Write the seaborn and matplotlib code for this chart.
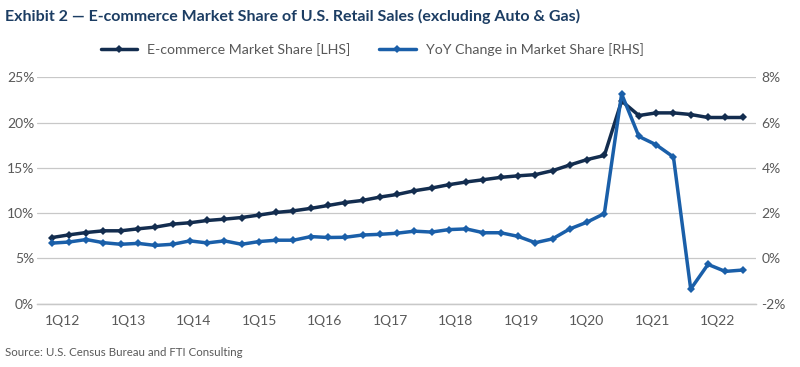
import numpy as np
import pandas as pd
import matplotlib
matplotlib.use('Agg')
import matplotlib.pyplot as plt
import seaborn as sns

# Quarterly data, 1Q12 .. 1Q22
share_pct = [7.29, 7.59, 7.85, 8.04, 8.04, 8.26, 8.45, 8.78, 8.93, 9.18,
             9.33, 9.51, 9.78, 10.07, 10.25, 10.52, 10.84, 11.17, 11.40, 11.77,
             12.06, 12.47, 12.77, 13.14, 13.44, 13.69, 13.95, 14.12, 14.25, 14.69,
             15.32, 15.92, 16.37, 22.40, 20.79, 21.08, 21.08, 20.90, 20.57, 20.57,
             20.57]
yoy_pct = [0.67, 0.72, 0.83, 0.69, 0.62, 0.66, 0.57, 0.62, 0.77, 0.68,
           0.77, 0.62, 0.74, 0.80, 0.80, 0.96, 0.92, 0.93, 1.03, 1.06,
           1.11, 1.20, 1.16, 1.27, 1.30, 1.13, 1.13, 0.97, 0.69, 0.86,
           1.30, 1.60, 1.98, 7.27, 5.39, 5.02, 4.48, -1.36, -0.27, -0.58,
           -0.52]
year_labels = ['1Q12', '1Q13', '1Q14', '1Q15', '1Q16', '1Q17',
               '1Q18', '1Q19', '1Q20', '1Q21', '1Q22']

df = pd.DataFrame({'q': np.arange(len(share_pct)), 'share': share_pct, 'yoy': yoy_pct})

sns.set_theme(style='white')
plt.rcParams['font.family'] = ['Lato', 'DejaVu Sans']

dark = '#132d4f'
blue = '#1a5fa9'
grey_txt = '#595959'
grid_c = '#c8c8c8'

fig = plt.figure(figsize=(8, 3.67), dpi=100)
ax = fig.add_axes([0.04625, 0.173, 0.89875, 0.616])
ax2 = ax.twinx()

sns.lineplot(data=df, x='q', y='share', ax=ax, color=dark, linewidth=2.5,
             marker='D', markersize=4.5, markeredgewidth=0, label='E-commerce Market Share [LHS]',
             legend=False)
sns.lineplot(data=df, x='q', y='yoy', ax=ax2, color=blue, linewidth=2.5,
             marker='D', markersize=4.5, markeredgewidth=0, label='YoY Change in Market Share [RHS]',
             legend=False)

# axis layout (category ticks don't line up exactly with quarters, as in the source)
ax.set_xlim(-0.85, 40.78)
step = 3.79
ax.set_xticks([2.55 + step * k for k in range(len(year_labels))])
ax.set_xticklabels([])
ax.set_xticks([0.655 + step * k for k in range(len(year_labels))], minor=True)
ax.set_xticklabels(year_labels, minor=True)
ax.tick_params(axis='x', which='major', length=5, width=0.8, color=grid_c, direction='out')
ax.tick_params(axis='x', which='minor', length=0, pad=8, labelsize=10, labelcolor=grey_txt)

ax.set_ylim(0, 25)
ax.set_yticks(range(0, 26, 5))
ax.set_yticklabels([f'{v}%' for v in range(0, 26, 5)])
ax.tick_params(axis='y', length=0, pad=2, labelsize=10, labelcolor=grey_txt)
ax.yaxis.grid(True, color=grid_c, linewidth=0.9)
ax.set_axisbelow(True)

ax2.set_ylim(-2, 8)
ax2.set_yticks(range(-2, 9, 2))
ax2.set_yticklabels([f'{v}%' for v in range(-2, 9, 2)])
ax2.tick_params(axis='y', length=0, pad=4, labelsize=10, labelcolor=grey_txt)
ax2.grid(False)

for a in (ax, ax2):
    a.set_xlabel('')
    a.set_ylabel('')
    for s in ['top', 'left', 'right']:
        a.spines[s].set_visible(False)
    a.spines['bottom'].set_color(grid_c)
    a.spines['bottom'].set_linewidth(0.9)

h1, l1 = ax.get_legend_handles_labels()
h2, l2 = ax2.get_legend_handles_labels()
fig.legend(h1 + h2, l1 + l2, loc='center', bbox_to_anchor=(0.465, 0.864), ncol=2,
           frameon=False, fontsize=10.2, labelcolor=grey_txt, handlelength=2.6,
           handletextpad=0.7, columnspacing=2.0)

fig.text(0.006, 0.955, 'Exhibit 2 \u2014 E-commerce Market Share of U.S. Retail Sales (excluding Auto & Gas)',
         fontsize=11.5, fontweight='bold', color='#1c3d63', va='center', ha='left')
fig.text(0.006, 0.04, 'Source: U.S. Census Bureau and FTI Consulting',
         fontsize=8.3, color=grey_txt, va='center', ha='left')

fig.savefig('out.png', dpi=100)
